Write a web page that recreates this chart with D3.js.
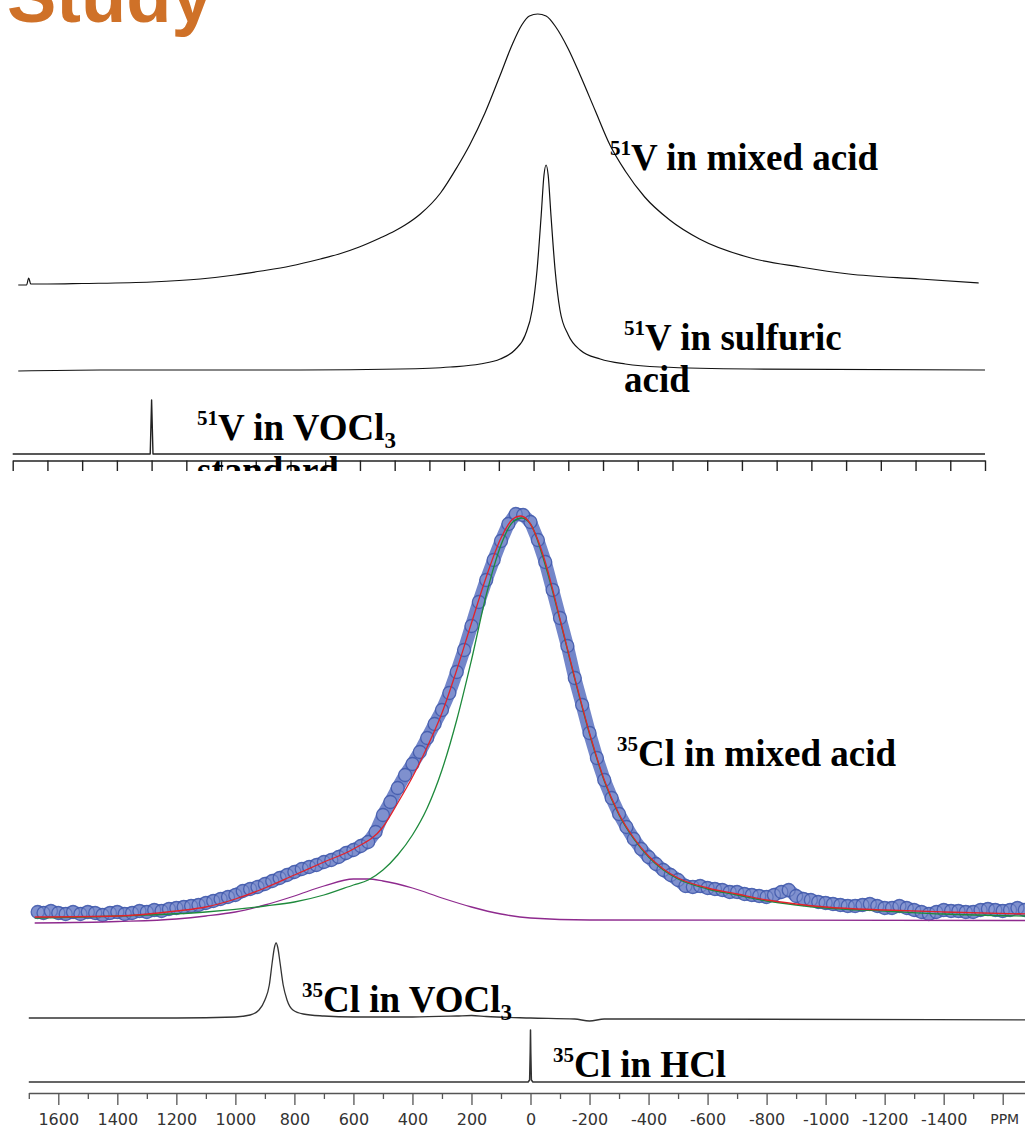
<!DOCTYPE html>
<html><head><meta charset="utf-8">
<script src="https://cdn.jsdelivr.net/npm/d3@7"></script>
<style>body{margin:0;background:#fff}svg{display:block}</style>
</head><body>
<svg id="fig" width="1025" height="1130"></svg>
<script>
// ---------- 51V spectra: [shift (ppm), intensity (a.u.)] ----------
const vTicks = d3.range(200, -1201, -50);
const vMixedAcid = [[192,0],[180,0],[177,7],[174,1],[150,1],[100,1.5],[0,3],[-70,6],[-120,10],[-158,14],[-200,19],[-243,26],[-270,31],[-299,38],[-329,47],[-350,54],[-365,60],[-387,71],[-416,92],[-440,118],[-458,140],[-480,172],[-502,210],[-519,240],[-533,260],[-544,269],[-556,271],[-568,269],[-582,258],[-600,236],[-617,210],[-639,174],[-660,140],[-682,114],[-710,88],[-746,65],[-789,46],[-863,27],[-934,18],[-1004,11],[-1106,6],[-1191,2]];
const vSulfuric = [[192,-1],[74,0],[-70,0],[-214,0],[-358,1],[-430,3],[-473,6],[-502,11],[-523,20],[-538,35],[-548,60],[-555,100],[-561,155],[-565,195],[-568,205],[-571,195],[-575,155],[-581,100],[-588,60],[-600,35],[-617,20],[-646,11],[-682,6],[-732,3],[-862,1],[-1200,0]];
const vStandard = [[200,0],[2,0],[0,54],[-2,0],[-1200,0]];

// ---------- 35Cl spectra ----------
const clMajor = [1600,1400,1200,1000,800,600,400,200,0,-200,-400,-600,-800,-1000,-1200,-1400,-1600];
const clLabels = ["1600","1400","1200","1000","800","600","400","200","0","-200","-400","-600","-800","-1000","-1200","-1400","PPM"];
const clMinor = [1700,1500,1300,1100,900,700,500,300,100,-100,-300,-500,-700,-900,-1100,-1300,-1500];

const clMixedData = [[1670,3],[1650,2],[1625,4],[1600,2],[1575,1],[1550,3],[1525,1],[1500,3],[1475,2],[1450,0],[1425,2],[1400,3],[1375,1],[1350,2],[1325,4],[1300,3],[1275,5],[1250,4],[1225,6],[1200,7],[1175,8],[1150,9],[1125,10],[1100,12],[1075,14],[1050,16],[1025,18],[1000,20],[975,24],[950,26],[925,28],[900,31],[875,34],[850,37],[825,40],[800,43],[775,46],[750,48],[725,50],[700,53],[675,55],[650,58],[625,62],[600,65],[575,69],[550,73],[525,83],[500,100],[475,113],[450,127],[425,140],[400,151],[375,163],[350,177],[325,191],[300,205],[275,222],[250,243],[225,265],[200,289],[175,313],[150,335],[125,355],[100,374],[75,391],[50,401],[25,400],[0,393],[-25,375],[-50,353],[-75,325],[-100,297],[-125,269],[-150,237],[-175,210],[-200,182],[-225,157],[-250,135],[-275,117],[-300,101],[-325,88],[-350,76],[-375,66],[-400,58],[-425,51],[-450,45],[-475,40],[-500,35],[-525,29],[-550,28],[-575,29],[-600,27],[-625,26],[-650,25],[-675,23],[-700,23],[-725,21],[-750,20],[-775,19],[-800,18],[-825,20],[-850,23],[-875,25],[-900,19],[-925,16],[-950,15],[-975,13],[-1000,12],[-1025,11],[-1050,10],[-1075,9],[-1100,9],[-1125,10],[-1150,11],[-1175,9],[-1200,7],[-1225,7],[-1250,9],[-1275,7],[-1300,5],[-1325,3],[-1350,1],[-1375,3],[-1400,5],[-1425,4],[-1450,4],[-1475,3],[-1500,3],[-1525,5],[-1550,6],[-1575,5],[-1600,4],[-1625,5],[-1650,7],[-1675,5]];
const clFitTotal = [[1680,-2],[1400,-1],[1200,4],[1100,8],[1000,16],[900,27],[800,40],[700,53],[600,66],[500,88],[450,112],[400,138],[350,168],[300,202],[250,245],[200,292],[150,338],[100,377],[60,396],[35,399],[10,395],[-25,375],[-50,353],[-100,296],[-150,237],[-200,182],[-250,135],[-300,101],[-350,77],[-400,59],[-450,46],[-500,37],[-600,27],[-700,21],[-800,15],[-900,11],[-1000,8],[-1200,5],[-1400,3],[-1680,1]];
const clFitMain = [[1680,-3],[1400,-1],[1100,3],[900,9],[800,13],[700,20],[600,30],[550,35],[500,45],[450,60],[400,80],[350,107],[300,145],[250,195],[200,255],[150,320],[100,370],[60,393],[30,397],[0,391],[-50,350],[-100,295],[-150,236],[-200,181],[-250,134],[-300,100],[-350,76],[-400,58],[-450,45],[-500,36],[-600,26],[-700,20],[-800,14],[-900,10],[-1000,7],[-1200,4],[-1400,1],[-1680,-1]];
const clFitBroad = [[1680,-8],[1400,-6.5],[1200,-4],[1100,-1],[1000,3],[900,10],[800,19],[700,29],[600,36],[550,36],[500,34],[400,27],[300,17],[200,8],[100,1],[0,-3],[-200,-5],[-1680,-5.5]];
const clVOCl3 = [[1700,0],[1200,0],[1000,1],[950,3],[920,8],[900,18],[885,33],[875,56],[868,70],[862,75],[856,70],[849,56],[838,33],[825,18],[805,8],[770,4],[700,2],[600,1],[400,1],[250,2],[200,2.5],[150,1.5],[0,0],[-150,-1],[-200,-3],[-250,-1],[-400,-1],[-1700,-2]];
const clHCl = [[1700,0],[8,0],[3,2],[1,30],[0,52],[-1,30],[-3,2],[-8,0],[-1700,0]];

const svg = d3.select("#fig");

// ---------- heading ----------
svg.append("text").attr("x", 7).attr("y", 22)
  .attr("font-family", "Liberation Sans, Arial, sans-serif").attr("font-weight", "bold")
  .attr("font-size", 74).attr("fill", "#cf7128").text("Study");

// label helper: superscript mass number, main text, optional subscript
function label(g, x, y, sup, main, sub) {
  const t = g.append("text").attr("x", x).attr("y", y)
    .attr("font-family", "Liberation Serif, Times New Roman, serif")
    .attr("font-weight", "bold").attr("font-size", 37).attr("fill", "#000");
  if (sup) t.append("tspan").attr("font-size", 21).attr("dy", -15).text(sup);
  t.append("tspan").attr("dy", sup ? 15 : 0).text(main);
  if (sub) t.append("tspan").attr("font-size", 23).attr("dy", 8).text(sub);
  return t;
}

// ---------- 51V panel ----------
svg.append("clipPath").attr("id", "vclip")
  .append("rect").attr("x", 0).attr("y", 0).attr("width", 1025).attr("height", 471);
const gV = svg.append("g").attr("clip-path", "url(#vclip)");

const xV = d3.scaleLinear().domain([200, -1200]).range([12.7, 985]);
const yVMixed = d3.scaleLinear().domain([0, 271]).range([285, 14]);
const yVSulf = d3.scaleLinear().domain([0, 205]).range([370, 165]);
const yVStd = d3.scaleLinear().domain([0, 54]).range([454, 400]);

const smooth = d3.curveMonotoneX;
function trace(g, data, xs, ys, curve, color, w) {
  g.append("path").datum(data)
    .attr("d", d3.line().x(d => xs(d[0])).y(d => ys(d[1])).curve(curve))
    .attr("fill", "none").attr("stroke", color).attr("stroke-width", w)
    .attr("stroke-linejoin", "round");
}
trace(gV, vMixedAcid, xV, yVMixed, smooth, "#111", 1.2);
trace(gV, vSulfuric, xV, yVSulf, smooth, "#111", 1.2);
trace(gV, vStandard, xV, yVStd, d3.curveLinear, "#222", 1.4);

const axV = gV.append("g").attr("transform", "translate(0,460.5)")
  .call(d3.axisBottom(xV).tickValues(vTicks).tickFormat("").tickSize(11).tickSizeOuter(0));
axV.selectAll("path,line").attr("stroke", "#222").attr("stroke-width", 1.4);

label(gV, 610, 170, "51", "V in mixed acid");
label(gV, 624, 350, "51", "V in sulfuric");
label(gV, 624, 392, null, "acid");
label(gV, 197, 440, "51", "V in VOCl", "3");
label(gV, 197, 483, null, "standard");

// ---------- 35Cl panel ----------
const xCl = d3.scaleLinear().domain([1600, -1600]).range([58.3, 1002.7]);
const yClMixed = d3.scaleLinear().domain([0, 400]).range([915, 515]);
const yClVOCl3 = d3.scaleLinear().domain([0, 75]).range([1018, 943]);
const yClHCl = d3.scaleLinear().domain([0, 52]).range([1082, 1030]);
const gCl = svg.append("g");

// measured points: translucent band plus open rings
const dataLine = d3.line().x(d => xCl(d[0])).y(d => yClMixed(d[1])).curve(d3.curveLinear);
gCl.append("path").datum(clMixedData).attr("d", dataLine)
  .attr("fill", "none").attr("stroke", "#5b71c0").attr("stroke-opacity", 0.85)
  .attr("stroke-width", 13).attr("stroke-linecap", "round").attr("stroke-linejoin", "round");
gCl.append("g").selectAll("circle").data(clMixedData).join("circle")
  .attr("cx", d => xCl(d[0])).attr("cy", d => yClMixed(d[1])).attr("r", 6.5)
  .attr("fill", "#9aa9dc").attr("fill-opacity", 0.3)
  .attr("stroke", "#4058aa").attr("stroke-width", 1.3).attr("stroke-opacity", 0.85);

trace(gCl, clFitBroad, xCl, yClMixed, smooth, "#8e2a8e", 1.3);
trace(gCl, clFitMain, xCl, yClMixed, smooth, "#1e8a3c", 1.3);
trace(gCl, clFitTotal, xCl, yClMixed, smooth, "#e2232b", 1.3);

trace(gCl, clVOCl3, xCl, yClVOCl3, smooth, "#333", 1.3);
trace(gCl, clHCl, xCl, yClHCl, d3.curveLinear, "#333", 1.5);

// ppm axis with major (labelled) and minor ticks
const xAxisScale = xCl.copy().domain([1700, -1720]).range([xCl(1700), xCl(-1720)]);
gCl.append("g").attr("transform", "translate(0,1093)")
  .call(d3.axisBottom(xAxisScale).tickValues(clMinor).tickFormat("").tickSize(6).tickSizeOuter(0));
const axMajor = gCl.append("g").attr("transform", "translate(0,1093)")
  .call(d3.axisBottom(xAxisScale).tickValues(clMajor).tickSize(12).tickSizeOuter(0).tickPadding(9)
    .tickFormat((d, i) => clLabels[i]));
axMajor.select(".domain").remove();
gCl.selectAll(".tick line, .domain").attr("stroke", "#555").attr("stroke-width", 1.3);
axMajor.selectAll("text").attr("font-family", "DejaVu Sans, Verdana, sans-serif")
  .attr("font-size", 16).attr("fill", "#333");
axMajor.selectAll("text").filter((d, i) => clLabels[i] === "PPM")
  .attr("font-size", 14).attr("text-anchor", "start").attr("dx", -13);

label(gCl, 617, 766, "35", "Cl in mixed acid");
label(gCl, 302, 1012, "35", "Cl in VOCl", "3");
label(gCl, 553, 1077, "35", "Cl in HCl");
</script>
</body></html>
